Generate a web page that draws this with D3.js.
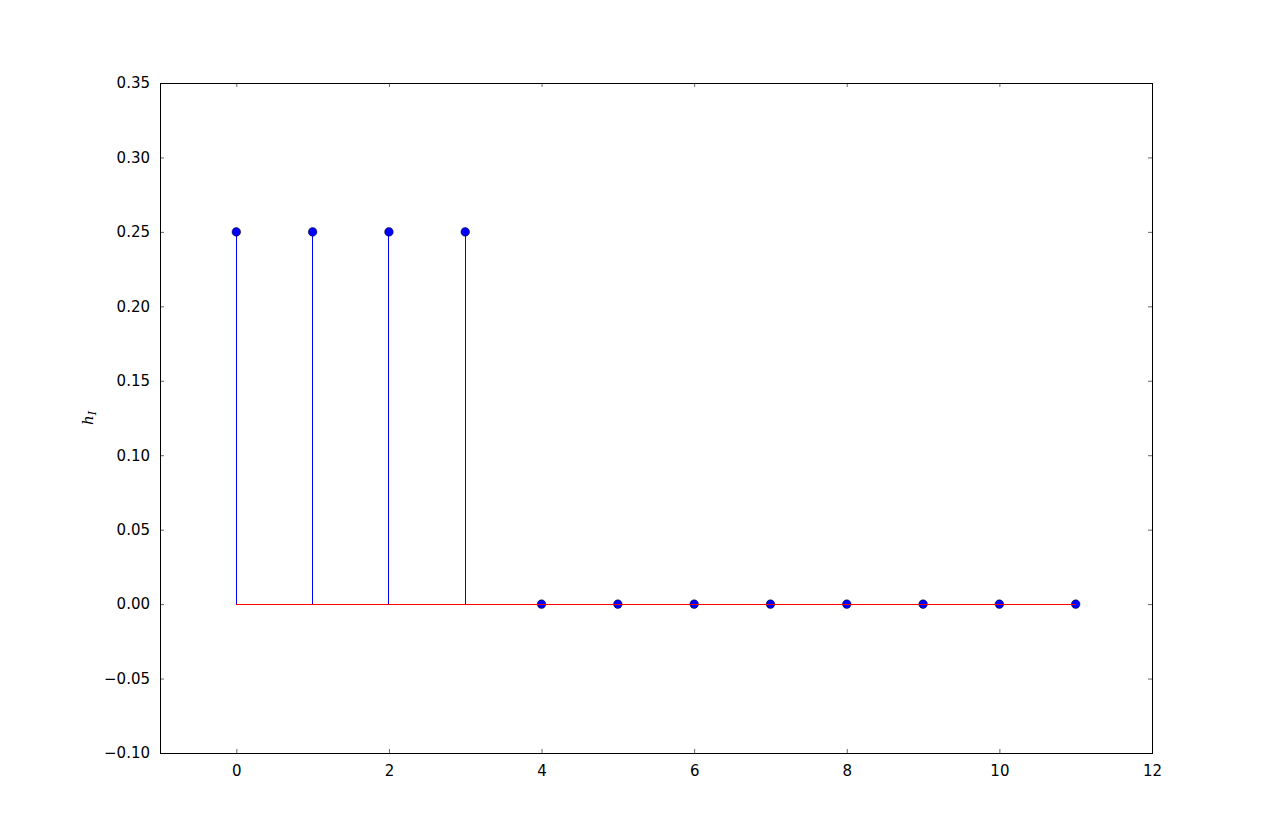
<!DOCTYPE html>
<html>
<head>
<meta charset="utf-8">
<script src="https://cdn.jsdelivr.net/npm/d3@7"></script>
<style>
    body {margin: 0; background: #fff;}
    text {font-family: "DejaVu Sans", sans-serif;}
</style>
</head>
<body>
<svg id="chart" width="1280" height="837"></svg>
<script>
// stem plot data
const nValues = [0, 1, 2, 3, 4, 5, 6, 7, 8, 9, 10, 11]
const hValues = [0.25, 0.25, 0.25, 0.25, 0, 0, 0, 0, 0, 0, 0, 0]
const xTicks = [0, 2, 4, 6, 8, 10, 12]
const yTicks = [-0.10, -0.05, 0.00, 0.05, 0.10, 0.15, 0.20, 0.25, 0.30, 0.35]

const margin = {top: 83, right: 128, bottom: 84, left: 160}
const width = 1280 - margin.left - margin.right
const height = 837 - margin.top - margin.bottom

const svg = d3.select("#chart")
const g = svg.append("g")
    .attr("transform", "translate(" + margin.left + "," + margin.top + ")")

const x = d3.scaleLinear().domain([-1, 12]).range([0, width])
const y = d3.scaleLinear().domain([-0.1, 0.35]).range([height, 0])

// stems
g.selectAll("line.stem")
    .data(nValues)
    .enter()
    .append("line")
    .attr("class", "stem")
    .attr("x1", (d) => x(d))
    .attr("x2", (d) => x(d))
    .attr("y1", y(0))
    .attr("y2", (d, i) => y(hValues[i]))
    .attr("stroke", "#0000ff")
    .attr("stroke-width", 1)
    .attr("shape-rendering", "crispEdges")

// markers
g.selectAll("circle")
    .data(nValues)
    .enter()
    .append("circle")
    .attr("cx", (d) => x(d))
    .attr("cy", (d, i) => y(hValues[i]))
    .attr("r", 4.3)
    .attr("fill", "#0000ff")
    .attr("stroke", "#000")
    .attr("stroke-width", 0.5)

// baseline
g.append("line")
    .attr("x1", x(d3.min(nValues)))
    .attr("x2", x(d3.max(nValues)))
    .attr("y1", y(0))
    .attr("y2", y(0))
    .attr("stroke", "#ff0000")
    .attr("stroke-width", 1)
    .attr("shape-rendering", "crispEdges")

// axes, ticks pointing inward on all four sides
const fmtY = (d) => d3.format(".2f")(d).replace("-", "\u2212")
const axisStyle = (sel) => {
    sel.select(".domain").remove()
    sel.selectAll(".tick line").attr("stroke", "#000").attr("stroke-width", 0.6)
    sel.selectAll("text").style("font-size", "15px").attr("fill", "#000")
}

g.append("g")
    .attr("transform", "translate(0," + height + ")")
    .call(d3.axisBottom(x).tickValues(xTicks).tickSizeInner(-4).tickSizeOuter(0).tickPadding(12))
    .call(axisStyle)

g.append("g")
    .call(d3.axisTop(x).tickValues(xTicks).tickSizeInner(-4).tickSizeOuter(0).tickFormat(""))
    .call(axisStyle)

g.append("g")
    .call(d3.axisLeft(y).tickValues(yTicks).tickSizeInner(-4).tickSizeOuter(0).tickPadding(10).tickFormat(fmtY))
    .call(axisStyle)

g.append("g")
    .attr("transform", "translate(" + width + ",0)")
    .call(d3.axisRight(y).tickValues(yTicks).tickSizeInner(-4).tickSizeOuter(0).tickFormat(""))
    .call(axisStyle)

// frame
g.append("rect")
    .attr("x", 0)
    .attr("y", 0)
    .attr("width", width)
    .attr("height", height)
    .attr("fill", "none")
    .attr("stroke", "#000")
    .attr("stroke-width", 1)
    .attr("shape-rendering", "crispEdges")

// y label h_I
const yLabel = svg.append("text")
    .attr("transform", "translate(93," + (margin.top + height / 2) + ") rotate(-90)")
    .attr("text-anchor", "middle")
    .style("font-family", "DejaVu Serif, serif")
    .style("font-style", "italic")
    .style("font-size", "15px")
yLabel.append("tspan").text("h")
yLabel.append("tspan").attr("dy", 3).style("font-size", "11px").text("I")
</script>
</body>
</html>
